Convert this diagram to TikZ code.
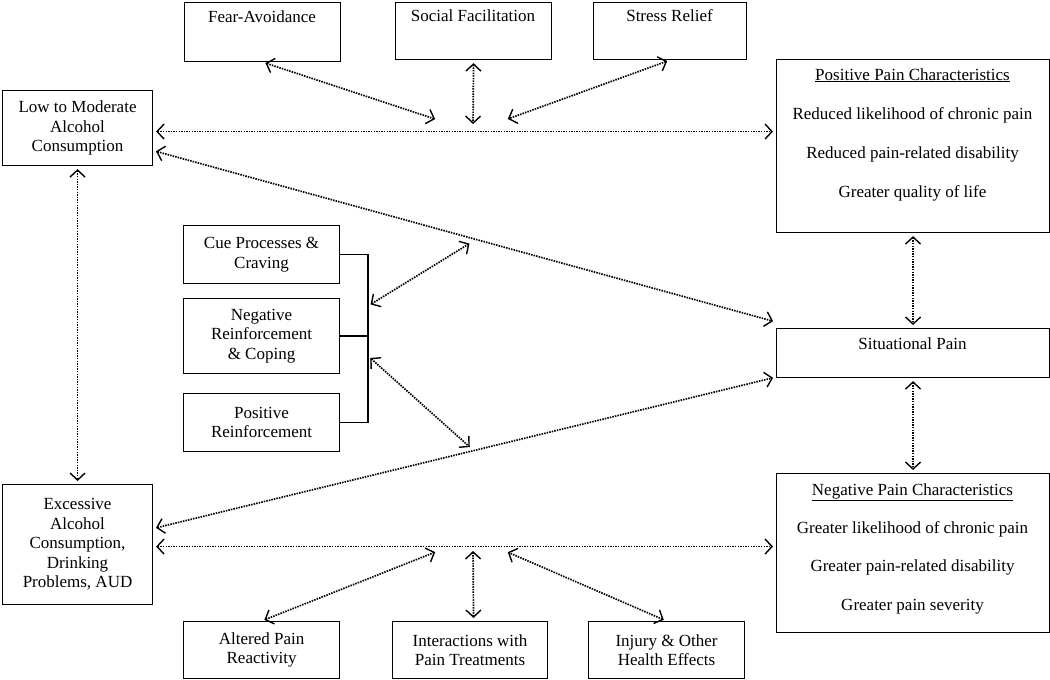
\documentclass[tikz,border=0pt]{standalone}
\usepackage{fontspec}
\setmainfont{Liberation Serif}
\usetikzlibrary{arrows.meta}
\begin{document}
\begin{tikzpicture}[x=1pt,y=1pt,
 box/.style={draw, line width=1.1pt, anchor=north west, inner sep=0pt, align=center,
   font=\fontsize{17}{19.5}\selectfont},
 ln/.style={inner sep=0pt, font=\fontsize{17}{19.5}\selectfont, text height=11pt, text depth=3pt},
 arr/.style={line width=1.7pt, dash pattern=on 1.5pt off 1.1pt,
   {Straight Barb[length=7pt,width=15pt,line width=1.4pt]}-{Straight Barb[length=7pt,width=15pt,line width=1.4pt]},
   shorten <=3pt, shorten >=3pt},
 brk/.style={line width=1.8pt}]
\fill[white] (0,0) rectangle (1050,-680);
\useasboundingbox (0,0) rectangle (1050,-680);

% top boxes
\node[box, minimum width=156, minimum height=59] (fa) at (184,-2) {};
\node[ln] (fat) at (262,-18) {Fear-Avoidance};
\node[box, minimum width=156, minimum height=57] (sf) at (395,-2) {};
\node[ln] (sft) at (473,-17) {Social Facilitation};
\node[box, minimum width=153, minimum height=57] (sr) at (593,-2) {};
\node[ln] (srt) at (669.5,-17) {Stress Relief};

% left boxes
\node[box, minimum width=150, minimum height=75] (lm) at (2,-90) {Low to Moderate\\Alcohol\\Consumption};
\node[box, minimum width=150, minimum height=120] (ex) at (2,-484) {Excessive\\Alcohol\\Consumption,\\Drinking\\Problems, AUD};

% right boxes
\node[box, minimum width=273, minimum height=173] (pos) at (776,-59) {};
\node[ln] (pos1) at (912.5,-76) {\underline{Positive Pain Characteristics}};
\node[ln] (pos2) at (912.5,-115) {Reduced likelihood of chronic pain};
\node[ln] (pos3) at (912.5,-154) {Reduced pain-related disability};
\node[ln] (pos4) at (912.5,-193) {Greater quality of life};

\node[box, minimum width=273, minimum height=49] (sit) at (776,-328) {};
\node[ln] (sitt) at (912.5,-345) {Situational Pain};

\node[box, minimum width=273, minimum height=159] (neg) at (776,-473) {};
\node[ln] (neg1) at (912.5,-491) {\underline{Negative Pain Characteristics}};
\node[ln] (neg2) at (912.5,-529) {Greater likelihood of chronic pain};
\node[ln] (neg3) at (912.5,-567.5) {Greater pain-related disability};
\node[ln] (neg4) at (912.5,-606) {Greater pain severity};

% middle boxes
\node[box, minimum width=156, minimum height=58] (cue) at (183,-225) {Cue Processes \&\\Craving};
\node[box, minimum width=156, minimum height=75] (nr) at (183,-298) {Negative\\Reinforcement\\\& Coping};
\node[box, minimum width=156, minimum height=58] (pr) at (183,-393) {Positive\\Reinforcement};

% bottom boxes
\node[box, minimum width=156, minimum height=57] (ap) at (183,-621) {Altered Pain\\Reactivity};
\node[box, minimum width=155, minimum height=57] (in) at (392,-621) {Interactions with\\Pain Treatments};
\node[box, minimum width=156, minimum height=57] (inj) at (588,-621) {Injury \& Other\\Health Effects};

% bracket
\coordinate (brx) at (368,0);
\draw[brk] (cue.east) -| (brx |- pr.east) -- (pr.east);
\draw[brk] (nr.east) -- (brx |- nr.east);

% hubs
\coordinate (h1) at (438,-120);
\coordinate (h2) at (473,-127);
\coordinate (h3) at (505,-120);
\coordinate (h4) at (438,-551);
\coordinate (h5) at (473,-548);
\coordinate (h6) at (505,-551);
\coordinate (b1) at (368,-306);
\coordinate (b2) at (368,-356);
\coordinate (h7) at (472,-242);
\coordinate (h8) at (472,-449);

% arrows
\draw[arr] (fa.south) -- (h1);
\draw[arr] (sf.south) -- (h2);
\draw[arr] (sr.south) -- (h3);
\draw[arr] ([yshift=-3.5]lm.east) -- ([yshift=14.5]pos.west);
\draw[arr] ([yshift=-22.5]lm.east) -- ([yshift=6]sit.north west);
\draw[arr] (lm.south) -- (ex.north);
\draw[arr] (pos.south) -- (sit.north);
\draw[arr] (sit.south) -- (neg.north);
\draw[arr] ([yshift=16]ex.east) -- ([yshift=1]sit.south west);
\draw[arr] ([yshift=-2]ex.east) -- ([yshift=6.5]neg.west);
\draw[arr] (b1) -- (h7);
\draw[arr] (b2) -- (h8);
\draw[arr] (ap.north) -- (h4);
\draw[arr] ([xshift=3.5]in.north) -- (h5);
\draw[arr] (inj.north) -- (h6);
\end{tikzpicture}
\end{document}
